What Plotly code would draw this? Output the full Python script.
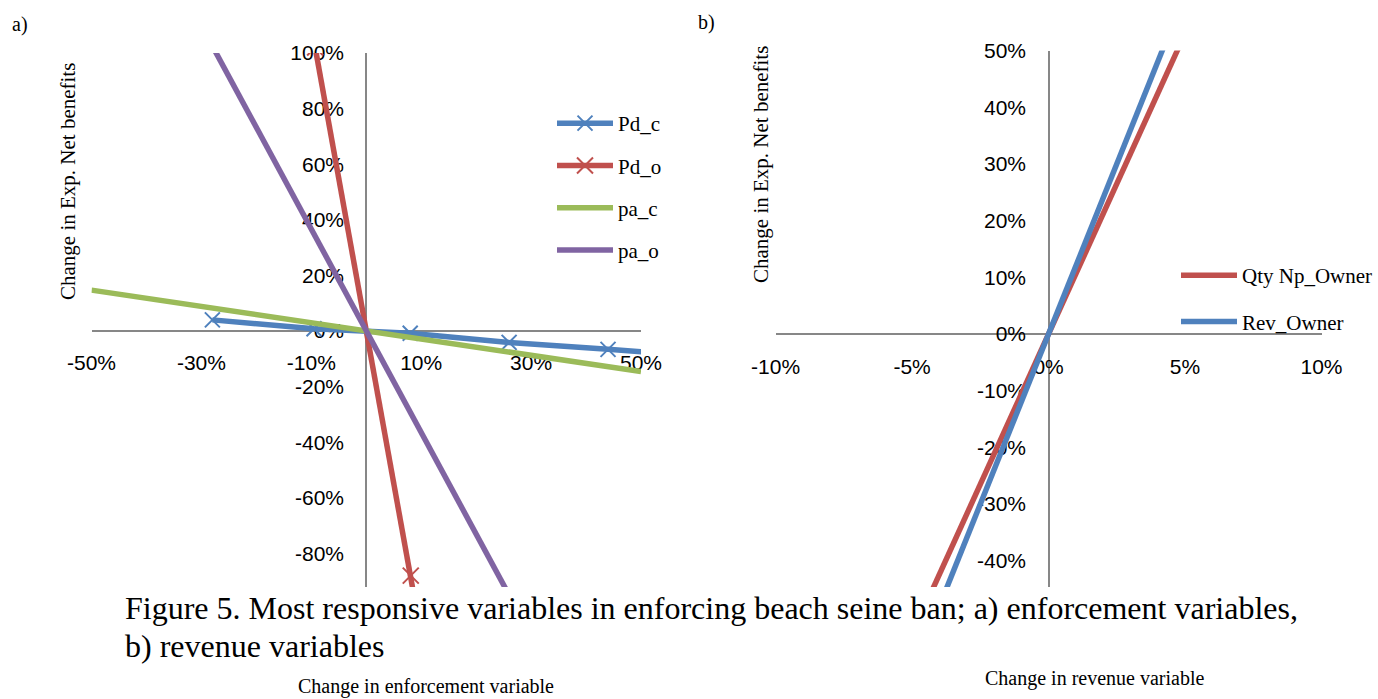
import plotly.graph_objects as go

W, H = 1378, 699

# ---------------- data (values in percent) ----------------
# Panel a) enforcement variables
pd_c_x = [-28, -9.5, 8, 26, 44, 62]
pd_c_y = [4.0, 0.8, -0.8, -4.1, -6.6, -9.1]
pd_o_x = [-9.3, 8.1, 26]
pd_o_y = [102, -88, -285]
pa_c_x = [-50, 0, 50]
pa_c_y = [14.7, 0, -14.6]
pa_o_x = [-28, 0, 26]
pa_o_y = [102.5, 0, -95]

# Panel b) revenue variables
qty_x = [-5, 0, 5]
qty_y = [-53, 0, 53]
rev_x = [-5, 0, 5]
rev_y = [-60, 0, 60]

# tick labels
a_xticks = [-50, -30, -10, 10, 30, 50]
a_xlabels = ["-50%", "-30%", "-10%", "10%", "30%", "50%"]
a_yticks = [-80, -60, -40, -20, 0, 20, 40, 60, 80, 100]
a_ylabels = ["-80%", "-60%", "-40%", "-20%", "0%", "20%", "40%", "60%", "80%", "100%"]
b_xticks = [-10, -5, 0, 5, 10]
b_xlabels = ["-10%", "-5%", "0%", "5%", "10%"]
b_yticks = [-40, -30, -20, -10, 0, 10, 20, 30, 40, 50]
b_ylabels = ["-40%", "-30%", "-20%", "-10%", "0%", "10%", "20%", "30%", "40%", "50%"]

BLUE = "#4F81BD"
RED = "#C0504D"
GREEN = "#9BBB59"
PURPLE = "#8064A2"
AXIS = "#878787"
SERIF = "Liberation Serif, Times New Roman, serif"
SANS = "Liberation Sans, Arial, sans-serif"
LW = 5.5


def px(x):
    return x / W


def py(y):
    return 1 - y / H


fig = go.Figure()

fig.add_trace(go.Scatter(x=pd_c_x, y=pd_c_y, name="Pd_c", mode="lines+markers",
                         line=dict(color=BLUE, width=LW),
                         marker=dict(symbol="x-thin", size=15, line=dict(color=BLUE, width=2)),
                         xaxis="x", yaxis="y", legend="legend", legendgroup="a1"))
fig.add_trace(go.Scatter(x=pd_o_x, y=pd_o_y, name="Pd_o", mode="lines+markers",
                         line=dict(color=RED, width=LW),
                         marker=dict(symbol="x-thin", size=16, line=dict(color=RED, width=2)),
                         xaxis="x", yaxis="y", legend="legend", legendgroup="a2"))
fig.add_trace(go.Scatter(x=pa_c_x, y=pa_c_y, name="pa_c", mode="lines",
                         line=dict(color=GREEN, width=LW),
                         xaxis="x", yaxis="y", legend="legend", legendgroup="a3"))
fig.add_trace(go.Scatter(x=pa_o_x, y=pa_o_y, name="pa_o", mode="lines",
                         line=dict(color=PURPLE, width=LW),
                         xaxis="x", yaxis="y", legend="legend", legendgroup="a4"))

fig.add_trace(go.Scatter(x=qty_x, y=qty_y, name="Qty Np_Owner", mode="lines",
                         line=dict(color=RED, width=LW),
                         xaxis="x2", yaxis="y2", legend="legend2", legendgroup="b1"))
fig.add_trace(go.Scatter(x=rev_x, y=rev_y, name="Rev_Owner", mode="lines",
                         line=dict(color=BLUE, width=LW),
                         xaxis="x2", yaxis="y2", legend="legend2", legendgroup="b2"))

axis_common = dict(showgrid=False, zeroline=False, showline=True, linecolor=AXIS,
                   linewidth=1.5, ticks="", tickmode="array", layer="below traces",
                   automargin=False,
                   tickfont=dict(family=SANS, size=21, color="black"))

# panel a axes: x 91.5..641 px, zero line at y=331; y 53..587 px, axis at x=366
a_ymin = -100 * (587 - 331) / (331 - 53)
fig.update_layout(
    xaxis=dict(domain=[px(91.5), px(641)], range=[-50, 50], anchor="free",
               position=py(331), side="bottom", tickvals=a_xticks, ticktext=a_xlabels,
               ticklabelstandoff=13, **axis_common),
    yaxis=dict(domain=[py(587), py(53)], range=[a_ymin, 100], anchor="free",
               position=px(366), side="left", tickvals=a_yticks, ticktext=a_ylabels,
               ticklabelstandoff=17, **axis_common),
)

# panel b axes: x 775.6..1321.5 px, zero at y=334; y 50.5..587, axis at x=1049
b_ymin = -50 * (587 - 334) / (334 - 50.5)
fig.update_layout(
    xaxis2=dict(domain=[px(775.6), px(1321.5)], range=[-10, 10], anchor="free",
                position=py(334), side="bottom", tickvals=b_xticks, ticktext=b_xlabels,
                ticklabelstandoff=14, **axis_common),
    yaxis2=dict(domain=[py(587), py(50.5)], range=[b_ymin, 50], anchor="free",
                position=px(1049), side="left", tickvals=b_yticks, ticktext=b_ylabels,
                ticklabelstandoff=18, **axis_common),
)

legend_common = dict(font=dict(family=SERIF, size=21, color="black"),
                     bgcolor="rgba(0,0,0,0)", traceorder="grouped",
                     itemwidth=56, xanchor="left", yanchor="top")
fig.update_layout(
    legend=dict(x=px(552), y=py(103), tracegroupgap=12, **legend_common),
    legend2=dict(x=px(1176), y=py(255), tracegroupgap=16, **legend_common),
)

annotations = []


def note(text, x, y, size, angle=0, xanchor="center", yanchor="middle"):
    annotations.append(dict(text=text, x=px(x), y=py(y), xref="paper", yref="paper",
                            xanchor=xanchor, yanchor=yanchor, textangle=angle,
                            showarrow=False,
                            font=dict(family=SERIF, size=size, color="black")))


note("a)", 20, 25, 20)
note("b)", 706, 22, 20)
note("Change in Exp. Net benefits", 68, 182, 21, angle=-90)
note("Change in Exp. Net benefits", 760.5, 164.5, 21, angle=-90)
note("Change in enforcement variable", 426, 686, 20)
note("Change in revenue variable", 1094, 678, 20)
note("Figure 5. Most responsive variables in enforcing beach seine ban; a) enforcement variables,",
     123, 608, 32, xanchor="left")
note("b) revenue variables", 123, 646, 32, xanchor="left")

fig.update_layout(
    width=W, height=H,
    margin=dict(l=0, r=0, t=0, b=0, pad=0, autoexpand=False),
    paper_bgcolor="white", plot_bgcolor="white",
    annotations=annotations, showlegend=True,
)

fig.write_html("out.html")
